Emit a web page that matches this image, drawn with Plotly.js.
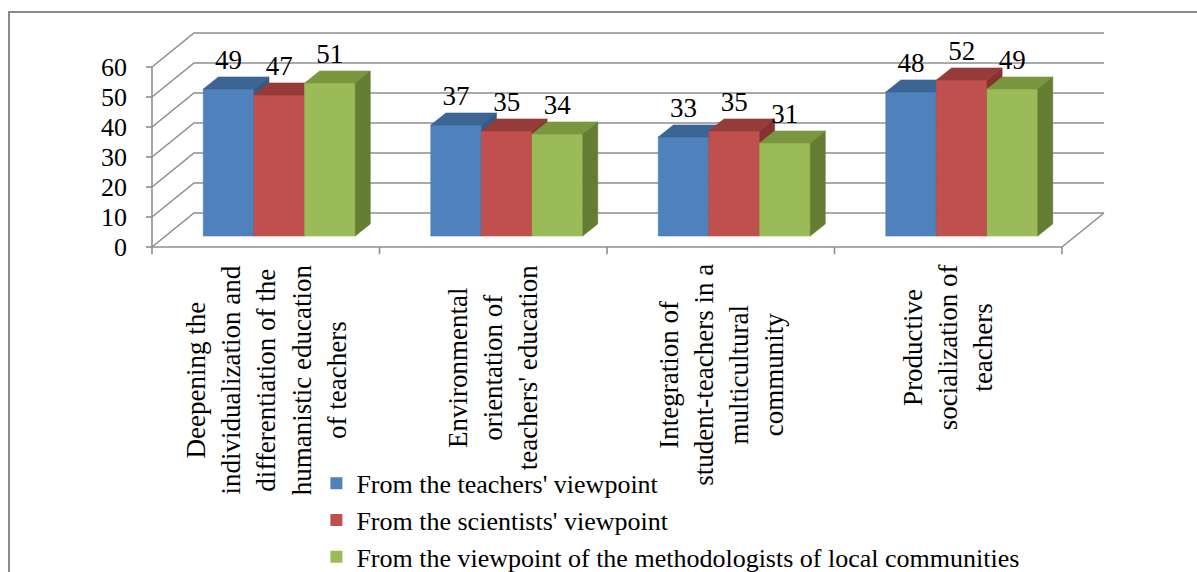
<!DOCTYPE html>
<html>
<head>
<meta charset="utf-8">
<script src="https://cdn.plot.ly/plotly-3.0.1.min.js"></script>
<style>
  html, body { margin: 0; padding: 0; background: #ffffff; }
  #chart { position: absolute; left: 0; top: 0; width: 1197px; height: 572px; }
  #frame { position: absolute; left: 8px; top: 11px; width: 1300px; height: 700px;
           border-left: 2px solid #8a8a8a; border-top: 2px solid #8a8a8a; pointer-events: none; }
</style>
</head>
<body>
<div id="chart"></div>
<div id="frame"></div>
<script>
// ---- data ----
const categories = [
  "Deepening the<br>individualization and<br>differentiation of the<br>humanistic education<br>of teachers",
  "Environmental<br>orientation of<br>teachers' education",
  "Integration of<br>student-teachers in a<br>multicultural<br>community",
  "Productive<br>socialization of<br>teachers"
];
const teachersView = [49, 37, 33, 48];
const scientistsView = [47, 35, 35, 52];
const methodologistsView = [51, 34, 31, 49];
const seriesNames = [
  "From the teachers' viewpoint",
  "From the scientists' viewpoint",
  "From the viewpoint of the methodologists of local communities"
];
const yTicks = [0, 10, 20, 30, 40, 50, 60];

// ---- styling / 3D projection constants ----
const FONT = "Liberation Serif, Times New Roman, serif";
const series = [teachersView, scientistsView, methodologistsView];
const frontCol = ["#4F81BD", "#C0504D", "#9BBB59"];
const topCol   = ["#3C6594", "#953C3A", "#7A9740"];
const sideCol  = ["#355A86", "#86332F", "#647D32"];
const PXX = 227.5, PXY = 3;   // pixels per x unit / per y unit
const DX = 42 / PXX;          // depth shift in x-axis units (full depth)
const DY = 34 / PXY;          // depth shift in y-axis units (full depth)
const Z0 = 0.32, DZ = 0.36;   // bar front depth and bar depth (fraction)
const GROUP = 0.668;          // group width (category units)
const nCat = categories.length;
const yMax = yTicks[yTicks.length - 1];

const traces = [];

// walls, floor, axes
(function () {
  const gx = [], gy = [];
  yTicks.forEach(v => {
    gx.push(0, DX, nCat + DX, null); gy.push(v, v + DY, v + DY, null);
    gx.push(-6 / PXX, 0, null); gy.push(v, v, null);
  });
  gx.push(nCat, nCat + DX, null); gy.push(0, DY, null);
  gx.push(0, nCat, null); gy.push(0, 0, null);
  gx.push(0, 0, null); gy.push(-2.4, yMax, null);
  for (let i = 1; i <= nCat; i++) { gx.push(i, i, null); gy.push(0, -2.4, null); }
  traces.push({type: 'scatter', mode: 'lines', x: gx, y: gy, hoverinfo: 'skip',
    line: {color: '#8e8e8e', width: 1.6}, showlegend: false});
})();

// 3D bars drawn as filled polygons (painter's order: left to right)
const bw = GROUP / series.length;
const bBase = Z0 * DY;
const sx = Z0 * DX;
series.forEach((vals, s) => {
  const fx = [], fy = [], tx = [], ty = [], ssx = [], ssy = [], lx = [], ly = [], lt = [];
  vals.forEach((v, i) => {
    const xl = i + 0.5 - GROUP / 2 + s * bw + sx;
    const xr = xl + bw;
    const top = bBase + v;
    const ddx = DZ * DX, ddy = DZ * DY;
    fx.push(xl, xr, xr, xl, xl, null); fy.push(bBase, bBase, top, top, bBase, null);
    tx.push(xl, xr, xr + ddx, xl + ddx, xl, null); ty.push(top, top, top + ddy, top + ddy, top, null);
    ssx.push(xr, xr + ddx, xr + ddx, xr, xr, null); ssy.push(bBase, bBase + ddy, top + ddy, top, bBase, null);
    lx.push((xl + xr) / 2); ly.push(top + 9); lt.push(String(v));
  });
  const poly = (x, y, c) => ({type: 'scatter', mode: 'lines', x: x, y: y, fill: 'toself',
    fillcolor: c, line: {color: c, width: 0.5}, hoverinfo: 'skip', showlegend: false});
  traces.push(poly(fx, fy, frontCol[s]));
  traces.push(poly(tx, ty, topCol[s]));
  traces.push(poly(ssx, ssy, sideCol[s]));
  traces.push({type: 'scatter', mode: 'text', x: lx, y: ly, text: lt, textposition: 'middle center',
    textfont: {family: FONT, size: 27, color: '#000000'}, hoverinfo: 'skip', showlegend: false,
    cliponaxis: false});
});

// legend entries
seriesNames.forEach((n, s) => {
  traces.push({type: 'bar', name: n, x: [null], y: [null],
    marker: {color: frontCol[s], line: {width: 0}}, showlegend: true, hoverinfo: 'skip'});
});

const annotations = categories.map((c, i) => ({
  x: i + 0.5, xref: 'x', y: -15 / PXY, yref: 'y', yanchor: 'top', xanchor: 'center',
  text: c, textangle: -90, showarrow: false, align: 'center',
  font: {family: FONT, size: 27, color: '#000000'}
}));

// plot area covers the whole height below the top margin
const TOP = 14, Y0PX = 247;
const layout = {
  width: 1197, height: 572,
  margin: {l: 140, r: 77, t: TOP, b: 0, autoexpand: false},
  paper_bgcolor: '#ffffff', plot_bgcolor: 'rgba(0,0,0,0)',
  showlegend: true,
  legend: {x: 0.18, xanchor: 'left', y: 0.201, yanchor: 'top', bgcolor: 'rgba(0,0,0,0)',
    font: {family: FONT, size: 26, color: '#000000'}, traceorder: 'normal', itemwidth: 30,
    itemclick: false, itemdoubleclick: false},
  xaxis: {range: [-12 / PXX, 968 / PXX], showgrid: false, zeroline: false, showline: false,
    showticklabels: false, ticks: '', fixedrange: true},
  yaxis: {range: [(Y0PX - 572) / PXY, (Y0PX - TOP) / PXY], showgrid: false, zeroline: false, showline: false,
    tickvals: yTicks, ticktext: yTicks.map(String), ticks: '', ticklabelstandoff: 12,
    tickfont: {family: FONT, size: 26, color: '#000000'}, fixedrange: true},
  annotations: annotations
};

Plotly.newPlot('chart', traces, layout, {displayModeBar: false, staticPlot: true});
</script>
</body>
</html>
